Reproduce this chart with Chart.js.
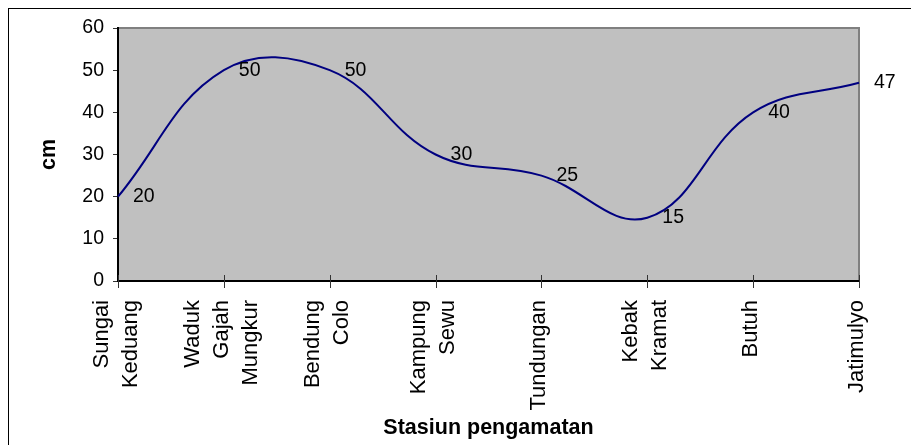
<!DOCTYPE html>
<html>
<head>
<meta charset="utf-8">
<script src="https://cdn.jsdelivr.net/npm/chart.js@4.4.1/dist/chart.umd.min.js"></script>
<style>
    html, body { margin: 0; padding: 0; background: #fff; overflow: hidden; }
    #frame { position: absolute; left: 8px; top: 8px; width: 1000px; height: 1000px; border: 1px solid #000; }
    #wrap { position: absolute; left: 0; top: 0; width: 911px; height: 445px; }
</style>
</head>
<body>
<div id="frame"></div>
<div id="wrap"><canvas id="myChart" width="911" height="445"></canvas></div>
<script>
"use strict"

const stations = [
    ["Sungai", "Keduang"],
    ["Waduk", "Gajah", "Mungkur"],
    ["Bendung", "Colo"],
    ["Kampung", "Sewu"],
    ["Tundungan"],
    ["Kebak", "Kramat"],
    ["Butuh"],
    ["Jatimulyo"]
];
const depth = [20, 50, 50, 30, 25, 15, 40, 47];
const yTicks = [0, 10, 20, 30, 40, 50, 60];

// grey plot background with its thin border
const plotBackground = {
    id: "plotBackground",
    beforeDraw(chart) {
        const { ctx, chartArea: a } = chart;
        ctx.save();
        ctx.fillStyle = "#c0c0c0";
        ctx.fillRect(a.left, a.top, a.right - a.left, a.bottom - a.top);
        ctx.strokeStyle = "#808080";
        ctx.lineWidth = 2;
        ctx.strokeRect(a.left, a.top, a.right - a.left, a.bottom - a.top);
        ctx.restore();
    }
};

// value labels to the right of each point
const valueLabels = {
    id: "valueLabels",
    afterDatasetsDraw(chart) {
        const ctx = chart.ctx;
        const meta = chart.getDatasetMeta(0);
        ctx.save();
        ctx.font = "19.5px 'Liberation Sans', Arial, sans-serif";
        ctx.fillStyle = "#000";
        ctx.textAlign = "left";
        ctx.textBaseline = "middle";
        meta.data.forEach((p, i) => {
            ctx.fillText(String(depth[i]), p.x + 15, p.y);
        });
        ctx.restore();
    }
};

// crossing tick marks and vertical, multi-line station names
const stationAxis = {
    id: "stationAxis",
    afterDraw(chart) {
        const ctx = chart.ctx;
        const xs = chart.scales.x;
        const bottom = chart.chartArea.bottom;
        ctx.save();
        ctx.strokeStyle = "#333";
        ctx.lineWidth = 1;
        stations.forEach((lines, i) => {
            const px = Math.round(xs.getPixelForValue(i)) + 0.5;
            ctx.beginPath();
            ctx.moveTo(px, bottom - 6);
            ctx.lineTo(px, bottom + 7);
            ctx.stroke();
        });
        ctx.font = "22px 'Liberation Sans', Arial, sans-serif";
        ctx.fillStyle = "#000";
        ctx.textAlign = "right";
        ctx.textBaseline = "middle";
        stations.forEach((lines, i) => {
            const px = xs.getPixelForValue(i);
            lines.forEach((t, k) => {
                const lx = px + (k - (lines.length - 1) / 2) * 29 - 2;
                ctx.save();
                ctx.translate(lx, 300);
                ctx.rotate(-Math.PI / 2);
                ctx.fillText(t, 0, 0);
                ctx.restore();
            });
        });
        ctx.restore();
    }
};

const ctx = document.getElementById("myChart").getContext("2d");

new Chart(ctx, {
    type: "line",
    data: {
        labels: stations,
        datasets: [{
            data: depth,
            borderColor: "#000080",
            borderWidth: 2,
            tension: 0.4,
            pointRadius: 0,
            fill: false
        }]
    },
    options: {
        responsive: false,
        animation: false,
        layout: {
            padding: { left: 0, top: 28, right: 52, bottom: 0 }
        },
        scales: {
            x: {
                offset: false,
                grid: { display: false },
                border: { display: true, color: "#000", width: 2 },
                ticks: { display: false },
                title: {
                    display: true,
                    text: "Stasiun pengamatan",
                    color: "#000",
                    font: { family: "'Liberation Sans', Arial, sans-serif", size: 21.5, weight: "bold" },
                    padding: { top: 0, bottom: 4.5 }
                },
                afterFit(scale) { scale.height = 164; }
            },
            y: {
                min: 0,
                max: 60,
                afterBuildTicks(scale) { scale.ticks = yTicks.map(v => ({ value: v })); },
                grid: {
                    drawOnChartArea: false,
                    drawTicks: true,
                    tickLength: 5,
                    color: "#333",
                    lineWidth: 1
                },
                border: { display: true, color: "#000", width: 2 },
                ticks: {
                    padding: 9,
                    color: "#000",
                    font: { family: "'Liberation Sans', Arial, sans-serif", size: 19.5 }
                },
                title: {
                    display: true,
                    text: "cm",
                    color: "#000",
                    font: { family: "'Liberation Sans', Arial, sans-serif", size: 21.5, weight: "bold" },
                    padding: { top: 36, bottom: 0 }
                },
                afterFit(scale) { scale.width = 118; }
            }
        },
        plugins: {
            legend: { display: false },
            tooltip: { enabled: false }
        }
    },
    plugins: [plotBackground, valueLabels, stationAxis]
});
</script>
</body>
</html>
